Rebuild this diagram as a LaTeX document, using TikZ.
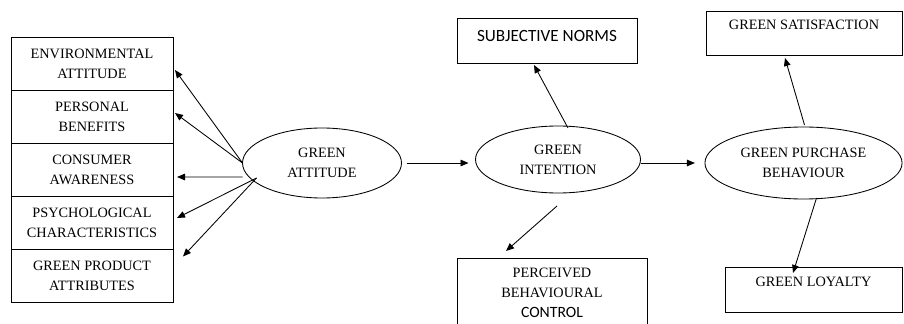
\documentclass[tikz,border=0pt]{standalone}
\usepackage{fontspec}
\setmainfont{Liberation Serif}
\newfontfamily\calibri{Carlito}
\usepackage{tikz}
\usetikzlibrary{shapes.geometric, arrows.meta, positioning, calc}

\begin{document}
\begin{tikzpicture}[
            x=0.7pt, y=-0.7pt,
            line width=0.6pt,
            font=\fontsize{10}{14}\selectfont,
            factor/.style={rectangle, draw, outer sep=0pt, inner ysep=1pt, minimum width=113.4pt, minimum height=37.1pt, align=center},
            outcome/.style={rectangle, draw, outer sep=0pt, align=center},
            construct/.style={ellipse, draw, outer sep=0pt, inner sep=0pt, align=center},
            arr/.style={-{Triangle[length=5.6pt,width=4.6pt]}}
        ]
        \useasboundingbox (0,0) rectangle (904,324);

        % Left side - attitude factors
        \node[factor] (env) at (92,63.5) {ENVIRONMENTAL\\ATTITUDE};
        \node[factor, below=0pt of env] (pers) {PERSONAL\\BENEFITS};
        \node[factor, below=0pt of pers] (cons) {CONSUMER\\AWARENESS};
        \node[factor, below=0pt of cons] (psych) {PSYCHOLOGICAL\\CHARACTERISTICS};
        \node[factor, below=0pt of psych] (prod) {GREEN PRODUCT\\ATTRIBUTES};

        % Middle - constructs
        \node[construct, minimum width=111.3pt, minimum height=49pt] (att) at (322,163) {GREEN\\ATTITUDE};
        \node[construct, minimum width=115.5pt, minimum height=46.9pt] (int) at (558,159.5) {GREEN\\INTENTION};
        \node[construct, minimum width=138pt, minimum height=50.4pt] (buy) at (803.5,163) {GREEN PURCHASE\\BEHAVIOUR};

        % Boxes around intention and behaviour
        \node[outcome, minimum width=126pt, minimum height=31.5pt, text depth=6pt, font=\calibri\fontsize{12}{14}\selectfont] (norms) at (547,40.5) {SUBJECTIVE NORMS};
        \node[outcome, minimum width=133pt, minimum height=49pt] (pbc) at (552,293) {PERCEIVED\\BEHAVIOURAL\\{\calibri\fontsize{11}{14}\selectfont CONTROL}};
        \node[outcome, minimum width=137.2pt, minimum height=30.8pt, text depth=11pt] (sat) at (804,33) {GREEN SATISFACTION};
        \node[outcome, minimum width=123.9pt, minimum height=31.5pt, text depth=10.5pt] (loyal) at (813.5,289.5) {GREEN LOYALTY};

        % Arrows from attitude to factors
        \draw[arr] (att.west) -- ($(env.east)+(2,6.5)$);
        \draw[arr] (att.west) -- ($(pers.east)+(2,-3.5)$);
        \draw[arr] ($(att.west)+(0,14)$) -- ($(cons.east)+(4,7.5)$);
        \draw[arr] ($(att.west)+(14,15)$) -- ($(psych.east)+(4,-4.5)$);
        \draw[arr] ($(att.west)+(14,15)$) -- ($(prod.east)+(10,-19)$);

        % Main chain
        \draw[arr, shorten <=3.5pt, shorten >=4.9pt] (att.east) -- (att.east -| int.west);
        \draw[arr, shorten >=7pt] (int.east |- buy.west) -- (buy.west);

        % Arrows around intention and behaviour
        \draw[arr] ($(int.north)+(10,2)$) -- ($(norms.south)+(-13,2)$);
        \draw[arr] ($(int.south)+(-1,13)$) -- ($(pbc.north)+(-46,-7)$);
        \draw[arr] ($(buy.north)+(1,-2)$) -- ($(sat.south)+(-19,3)$);
        \draw[arr] ($(buy.south)+(13,-1)$) -- ($(loyal.north)+(-20.5,6)$);

    \end{tikzpicture}
\end{document}
